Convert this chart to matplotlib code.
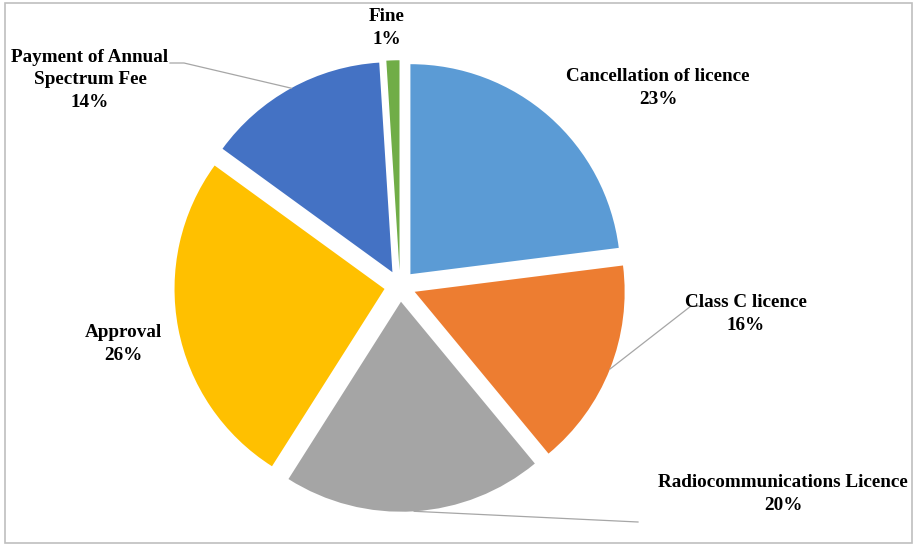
import numpy as np
import matplotlib.pyplot as plt
from matplotlib.patches import Rectangle

# licence category shares (%)
categories = ["Cancellation of licence", "Class C licence",
              "Radiocommunications Licence", "Approval",
              "Payment of Annual\nSpectrum Fee", "Fine"]
shares = [23, 16, 20, 26, 14, 1]
colors = ["#5B9BD5", "#ED7D31", "#A5A5A5", "#FFC000", "#4472C4", "#70AD47"]

W, H = 913, 545
fig = plt.figure(figsize=(W / 100, H / 100), dpi=100)
ax = fig.add_axes([0, 0, 1, 1])

cx, cy, R = 400, H - 286, 210
# explode is in data units here, so scale by the radius
wedges, _ = ax.pie(shares, colors=colors, startangle=90, counterclock=False,
                   explode=[0.075 * R] * len(shares), radius=R, center=(cx, cy),
                   wedgeprops=dict(linewidth=0), frame=True)
ax.set_xlim(0, W)
ax.set_ylim(0, H)
ax.set_aspect("equal")
ax.axis("off")

font = dict(family="Liberation Serif", fontweight="bold", fontsize=13.8,
            ha="center", va="center", linespacing=1.42)

# label centres (x, y from top)
label_pos = [(658, 88), (746, 314), (783, 494), (123, 344), (90, 80), (387, 28)]
for name, val, (lx, ly) in zip(categories, shares, label_pos):
    ax.text(lx, H - ly, f"{name}\n{val}%", **font)


def mid_point(w):
    a = np.deg2rad((w.theta1 + w.theta2) / 2)
    return w.center[0] + w.r * np.cos(a), w.center[1] + w.r * np.sin(a)


line = dict(color="#A6A6A6", lw=0.9)
# leader lines for a few slices
px, py = mid_point(wedges[4])
ax.plot([170, 184, px], [H - 63, H - 63, py], **line)
px, py = mid_point(wedges[1])
ax.plot([703, 691, px], [H - 306, H - 306, py], **line)
px, py = mid_point(wedges[2])
ax.plot([px, 638], [py, H - 522], **line)

fig.patches.append(Rectangle((5 / W, 2 / H), 907 / W, 540 / H,
                             transform=fig.transFigure, fill=False,
                             edgecolor="#BFBFBF", lw=1.2))

fig.savefig("out.png", dpi=100, facecolor="white")
